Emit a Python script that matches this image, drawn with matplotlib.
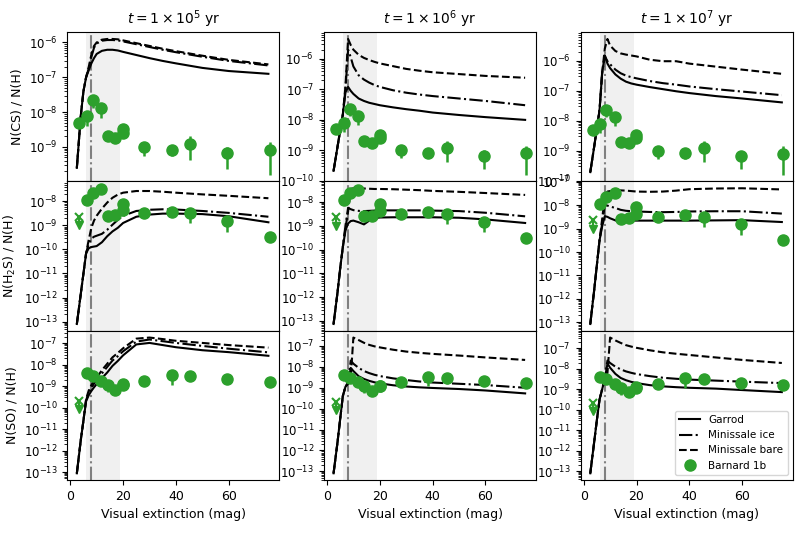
import numpy as np
import matplotlib
matplotlib.use("Agg")
import matplotlib.pyplot as plt
from matplotlib.lines import Line2D
from matplotlib.ticker import LogLocator, NullFormatter

# model grid (visual extinction, mag)
av = [2.5, 4, 5, 6, 7, 8, 9, 10, 12, 14, 16, 18, 20, 25, 30, 35, 40, 50, 60, 75]

tempos = ["5", "6", "7"]
especies = ["CS", "H$_2$S", "SO"]

# log10 abundances: [especie][tempo]
garrod = {
    ("CS", "5"): [-9.6, -8.1, -7.4, -7.0, -6.8, -6.6, -6.45, -6.33, -6.24, -6.21, -6.21, -6.23, -6.27, -6.36, -6.45, -6.53, -6.6, -6.73, -6.82, -6.9],
    ("CS", "6"): [-9.67, -8.88, -8.35, -7.83, -7.1, -6.92, -7.05, -7.15, -7.3, -7.38, -7.44, -7.48, -7.52, -7.59, -7.65, -7.7, -7.76, -7.84, -7.91, -8.0],
    ("CS", "7"): [-9.71, -8.85, -8.25, -7.65, -6.4, -5.82, -6.1, -6.25, -6.46, -6.6, -6.7, -6.76, -6.8, -6.88, -6.95, -7.02, -7.08, -7.18, -7.26, -7.39],
    ("H$_2$S", "5"): [-13.1, -11.84, -11.0, -10.16, -9.95, -9.9, -9.88, -9.86, -9.7, -9.45, -9.25, -9.1, -8.9, -8.64, -8.55, -8.51, -8.51, -8.53, -8.62, -8.87],
    ("H$_2$S", "6"): [-13.13, -11.8, -10.8, -9.9, -9.2, -8.9, -8.8, -8.78, -8.85, -8.94, -8.78, -8.68, -8.65, -8.64, -8.64, -8.64, -8.64, -8.66, -8.73, -8.88],
    ("H$_2$S", "7"): [-13.07, -11.6, -10.55, -9.5, -8.9, -8.47, -8.5, -8.56, -8.65, -8.73, -8.7, -8.66, -8.66, -8.66, -8.66, -8.66, -8.66, -8.65, -8.64, -8.72],
    ("SO", "5"): [-13.06, -11.5, -10.6, -9.7, -9.42, -9.22, -9.05, -8.9, -8.62, -8.36, -8.05, -7.82, -7.56, -7.05, -6.98, -7.08, -7.18, -7.32, -7.41, -7.58],
    ("SO", "6"): [-13.09, -11.6, -10.5, -9.4, -8.95, -8.8, -8.05, -8.2, -8.45, -8.58, -8.67, -8.74, -8.79, -8.88, -8.94, -8.98, -9.01, -9.06, -9.13, -9.27],
    ("SO", "7"): [-13.1, -11.55, -10.5, -9.5, -9.0, -8.5, -7.75, -7.95, -8.25, -8.45, -8.56, -8.64, -8.7, -8.8, -8.86, -8.9, -8.93, -8.97, -9.04, -9.14],
}
minissale_ice = {
    ("CS", "5"): [-9.6, -8.1, -7.4, -7.0, -6.75, -6.42, -6.15, -6.03, -5.95, -5.93, -5.93, -5.94, -5.97, -6.05, -6.13, -6.21, -6.28, -6.41, -6.53, -6.66],
    ("CS", "6"): [-9.67, -8.88, -8.35, -7.83, -7.0, -5.7, -5.95, -6.25, -6.54, -6.68, -6.78, -6.86, -6.92, -7.03, -7.11, -7.17, -7.22, -7.3, -7.38, -7.52],
    ("CS", "7"): [-9.71, -8.85, -8.25, -7.65, -6.4, -5.85, -6.02, -6.12, -6.3, -6.42, -6.5, -6.55, -6.59, -6.68, -6.75, -6.8, -6.86, -6.95, -7.03, -7.15],
    ("H$_2$S", "5"): [-13.1, -11.84, -11.0, -10.16, -9.75, -9.55, -9.47, -9.43, -9.35, -9.18, -8.97, -8.77, -8.6, -8.4, -8.35, -8.33, -8.34, -8.4, -8.48, -8.64],
    ("H$_2$S", "6"): [-13.13, -11.8, -10.8, -9.9, -9.0, -8.25, -8.3, -8.34, -8.37, -8.38, -8.37, -8.36, -8.35, -8.35, -8.35, -8.35, -8.36, -8.38, -8.45, -8.6],
    ("H$_2$S", "7"): [-13.07, -11.6, -10.55, -9.5, -8.8, -8.0, -8.02, -8.06, -8.12, -8.2, -8.24, -8.26, -8.27, -8.29, -8.3, -8.29, -8.27, -8.26, -8.26, -8.36],
    ("SO", "5"): [-13.06, -11.5, -10.6, -9.65, -9.3, -9.07, -8.88, -8.72, -8.4, -8.1, -7.8, -7.6, -7.37, -6.92, -6.82, -6.9, -6.98, -7.12, -7.25, -7.42],
    ("SO", "6"): [-13.09, -11.6, -10.5, -9.4, -8.95, -8.75, -7.7, -7.85, -8.05, -8.2, -8.3, -8.38, -8.44, -8.55, -8.63, -8.7, -8.75, -8.81, -8.87, -9.0],
    ("SO", "7"): [-13.1, -11.55, -10.5, -9.5, -9.0, -8.4, -7.6, -7.72, -7.9, -8.03, -8.13, -8.2, -8.26, -8.36, -8.44, -8.49, -8.53, -8.58, -8.63, -8.7],
}
minissale_bare = {
    ("CS", "5"): [-9.6, -8.1, -7.4, -7.0, -6.7, -6.35, -6.1, -6.0, -5.92, -5.9, -5.9, -5.91, -5.94, -6.02, -6.1, -6.18, -6.25, -6.38, -6.5, -6.63],
    ("CS", "6"): [-9.67, -8.88, -8.35, -7.83, -6.9, -5.35, -5.55, -5.7, -5.87, -5.97, -6.04, -6.1, -6.15, -6.24, -6.33, -6.39, -6.44, -6.5, -6.56, -6.62],
    ("CS", "7"): [-9.71, -8.85, -8.25, -7.65, -6.4, -5.6, -5.28, -5.5, -5.68, -5.76, -5.8, -5.83, -5.86, -5.97, -6.02, -6.02, -6.1, -6.2, -6.3, -6.44],
    ("H$_2$S", "5"): [-13.1, -11.84, -11.0, -10.16, -9.6, -9.1, -8.8, -8.6, -8.3, -8.05, -7.85, -7.72, -7.64, -7.57, -7.57, -7.6, -7.64, -7.71, -7.77, -7.87],
    ("H$_2$S", "6"): [-13.13, -11.8, -10.8, -9.9, -9.1, -8.4, -7.45, -7.42, -7.42, -7.43, -7.44, -7.45, -7.45, -7.46, -7.48, -7.5, -7.53, -7.57, -7.62, -7.7],
    ("H$_2$S", "7"): [-13.07, -11.6, -10.55, -9.5, -8.6, -7.6, -7.42, -7.4, -7.38, -7.37, -7.38, -7.4, -7.42, -7.43, -7.42, -7.38, -7.32, -7.29, -7.28, -7.33],
    ("SO", "5"): [-13.06, -11.5, -10.6, -9.6, -9.2, -8.95, -8.75, -8.6, -8.25, -7.95, -7.65, -7.45, -7.23, -6.78, -6.73, -6.8, -6.88, -6.98, -7.08, -7.2],
    ("SO", "6"): [-13.09, -11.6, -10.5, -9.4, -8.95, -8.8, -8.5, -6.6, -6.72, -6.85, -6.95, -7.02, -7.07, -7.18, -7.27, -7.33, -7.38, -7.46, -7.55, -7.67],
    ("SO", "7"): [-13.1, -11.55, -10.5, -9.5, -9.0, -8.5, -8.2, -6.48, -6.62, -6.74, -6.85, -6.92, -6.98, -7.1, -7.2, -7.27, -7.33, -7.45, -7.57, -7.72],
}

# Barnard 1b observations
av_obs = [3.4, 6.3, 8.6, 11.7, 14.2, 17.0, 19.9, 19.9, 28.0, 38.4, 45.5, 59.4, 75.5]
obs = {
    "CS": [4.9e-9, 7.8e-9, 2.2e-8, 1.35e-8, 2.0e-9, 1.8e-9, 3.3e-9, 2.6e-9, 1.0e-9, 8.3e-10, 1.2e-9, 6.5e-10, 8.0e-10],
    "H$_2$S": [np.nan, 1.17e-8, 2.3e-8, 3.2e-8, 2.5e-9, 2.7e-9, 8.0e-9, 4.2e-9, 3.2e-9, 3.7e-9, 3.2e-9, 1.5e-9, 3.2e-10],
    "SO": [np.nan, 4.0e-9, 3.0e-9, 1.8e-9, 1.2e-9, 7.0e-10, 1.27e-9, 1.2e-9, 1.8e-9, 3.4e-9, 3.0e-9, 2.1e-9, 1.6e-9],
}
obs_lo = {
    "CS": [4.0e-9, 4.0e-9, 1.3e-8, 6.9e-9, 1.7e-9, 1.5e-9, 1.8e-9, 1.8e-9, 5.5e-10, 5.5e-10, 4.1e-10, 2.4e-10, 1.6e-10],
    "H$_2$S": [np.nan, 7.5e-9, 2.0e-8, 2.9e-8, 2.2e-9, 2.4e-9, 5.5e-9, 2.5e-9, 2.2e-9, 2.8e-9, 1.2e-9, 5.5e-10, 2.3e-10],
    "SO": [np.nan, 2.4e-9, 2.4e-9, 1.2e-9, 5.5e-10, 6.0e-10, 1.1e-9, 1.0e-9, 1.1e-9, 1.2e-9, 2.7e-9, 1.9e-9, 1.4e-9],
}
obs_hi = {
    "CS": [5.8e-9, 1.0e-8, 3.0e-8, 1.6e-8, 2.2e-9, 2.0e-9, 4.6e-9, 3.0e-9, 1.3e-9, 9.5e-10, 2.1e-9, 1.0e-9, 1.4e-9],
    "H$_2$S": [np.nan, 1.3e-8, 2.6e-8, 3.5e-8, 2.8e-9, 3.0e-9, 9.0e-9, 4.6e-9, 3.5e-9, 4.0e-9, 3.5e-9, 1.7e-9, 3.5e-10],
    "SO": [np.nan, 4.4e-9, 3.3e-9, 2.0e-9, 1.3e-9, 7.7e-10, 1.4e-9, 1.3e-9, 2.0e-9, 3.7e-9, 3.3e-9, 2.3e-9, 1.8e-9],
}
# upper limits at the lowest extinction (value, arrow end)
limite = {"H$_2$S": (2.3e-9, 1.0e-9), "SO": (2.1e-10, 9.0e-11)}
av_limite = 3.4

verde = "tab:green"
plt.rcParams["font.size"] = 9
plt.rcParams["ytick.labelsize"] = 8.5
plt.rcParams["xtick.labelsize"] = 9

fig, axes = plt.subplots(3, 3, figsize=(8, 5.55), dpi=100, sharex="col")
fig.subplots_adjust(left=0.084, right=0.991, top=0.942, bottom=0.135,
                    wspace=0.21, hspace=0.0)

for j, t in enumerate(tempos):
    for i, esp in enumerate(especies):
        ax = axes[i, j]
        ax.axvspan(6, 19, color="0.94", zorder=0, lw=0)
        ax.axvline(8, color="grey", ls="-.", lw=1.5, zorder=1)

        ax.plot(av, 10 ** np.array(garrod[(esp, t)]), color="black", ls="-", lw=1.5)
        ax.plot(av, 10 ** np.array(minissale_ice[(esp, t)]), color="black", ls="-.", lw=1.5)
        ax.plot(av, 10 ** np.array(minissale_bare[(esp, t)]), color="black", ls="--", lw=1.5)

        y = np.array(obs[esp])
        yerr = [y - np.array(obs_lo[esp]), np.array(obs_hi[esp]) - y]
        ax.errorbar(av_obs, y, yerr=yerr, fmt="o", color=verde, ms=8,
                    elinewidth=1.8, capsize=0, zorder=4)
        if esp in limite:
            v, fim = limite[esp]
            ax.plot([av_limite, av_limite], [v, fim], color=verde, lw=1.5, zorder=4)
            ax.plot(av_limite, v, marker="x", color=verde, ms=6, mew=1.5, zorder=4)
            ax.plot(av_limite, fim, marker="v", color=verde, ms=6, zorder=4)

        ax.set_yscale("log")
        ax.yaxis.set_major_locator(LogLocator(base=10, numticks=30))
        ax.yaxis.set_minor_locator(LogLocator(base=10, subs=np.arange(2, 10), numticks=30))
        ax.yaxis.set_minor_formatter(NullFormatter())
        if j == 0:
            ax.set_ylabel(f"N({esp}) / N(H)")
        if i == 0:
            ax.set_title(rf"$t = 1 \times 10^{t}$ yr", fontsize=10)
        if i == 2:
            ax.set_xlabel("Visual extinction (mag)")
            ax.set_xticks([0, 20, 40, 60])

legenda = [
    Line2D([], [], color="black", ls="-", lw=1.5, label="Garrod"),
    Line2D([], [], color="black", ls="-.", lw=1.5, label="Minissale ice"),
    Line2D([], [], color="black", ls="--", lw=1.5, label="Minissale bare"),
    Line2D([], [], color=verde, marker="o", ls="none", ms=8, label="Barnard 1b"),
]
axes[2, 2].legend(handles=legenda, loc="lower right", fontsize=7.5)

fig.savefig("out.png", dpi=100)
